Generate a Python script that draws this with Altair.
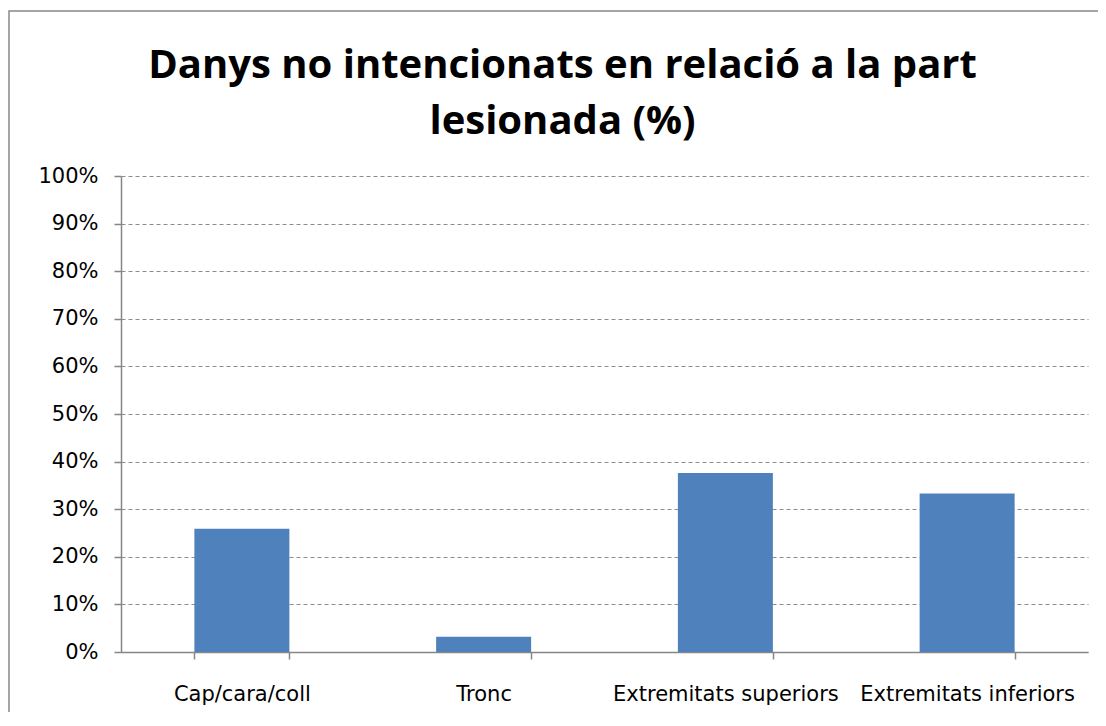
import altair as alt
import pandas as pd

categories = ["Cap/cara/coll", "Tronc", "Extremitats superiors", "Extremitats inferiors"]
values = [0.259, 0.032, 0.376, 0.333]
y_ticks = [0, 0.1, 0.2, 0.3, 0.4, 0.5, 0.6, 0.7, 0.8, 0.9, 1.0]
title_lines = ["Danys no intencionats en relació a la part", "lesionada (%)"]

df = pd.DataFrame({"part": categories, "pct": values})

TITLE_FONT = "Open Sans"
LABEL_FONT = "DejaVu Sans"

bars = alt.Chart(df).mark_bar(color="#4F81BD").encode(
    x=alt.X(
        "part:N",
        sort=categories,
        scale=alt.Scale(paddingInner=0.607, paddingOuter=0.3035),
        axis=alt.Axis(
            title=None,
            labelAngle=0,
            labelFont=LABEL_FONT,
            labelFontSize=21,
            labelColor="#000000",
            labelPadding=24,
            labelLimit=0,
            tickBand="extent",
            tickSize=7,
            tickColor="#868686",
            domainColor="#868686",
            domainWidth=1.5,
            tickWidth=1.5,
            grid=False,
        ),
    ),
    y=alt.Y(
        "pct:Q",
        scale=alt.Scale(domain=[0, 1], nice=False),
        axis=alt.Axis(
            title=None,
            values=y_ticks,
            format=".0%",
            labelFont=LABEL_FONT,
            labelFontSize=21,
            labelColor="#000000",
            labelPadding=16,
            tickSize=7,
            tickColor="#868686",
            domainColor="#868686",
            domainWidth=1.5,
            tickWidth=1.5,
            grid=True,
            gridColor="#8c8c8c",
            gridDash=[4, 3],
            gridWidth=1,
        ),
    ),
)

border = alt.Chart(alt.Data(values=[{"a": 1}])).mark_rect(
    fill="transparent", stroke="#888888", strokeWidth=1.5
).encode(
    x=alt.value(-112),
    x2=alt.value(1100),
    y=alt.value(-165),
    y2=alt.value(700),
)

chart = alt.layer(border, bars).properties(
    width=967,
    height=476,
    autosize=alt.AutoSizeParams(type="none"),
    padding={"left": 113, "top": 168, "right": 10, "bottom": 60},
    title=alt.TitleParams(
        text=title_lines,
        font=TITLE_FONT,
        fontSize=40,
        fontWeight="bold",
        color="#000000",
        anchor="middle",
        baseline="alphabetic",
        dx=-42,
        dy=164,
        offset=0,
        lineHeight=56,
    ),
).configure_view(stroke=None)

chart.save("out.html", embed_options={"renderer": "svg", "actions": False})
